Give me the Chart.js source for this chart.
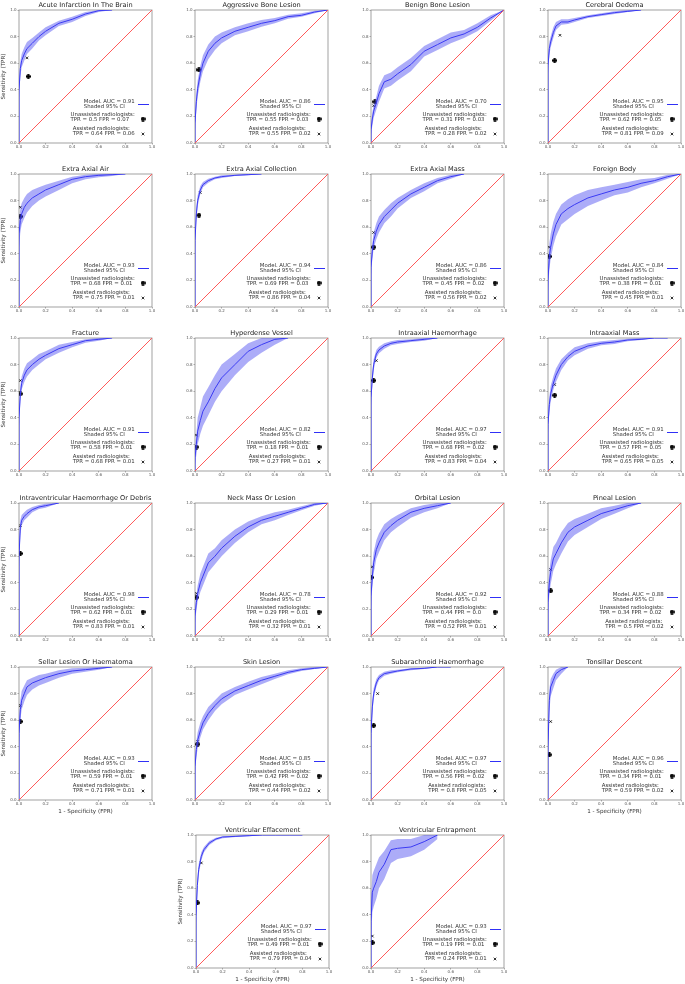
<!DOCTYPE html>
<html>
<head>
<meta charset="utf-8">
<script src="https://cdn.jsdelivr.net/npm/chart.js@4.4.1/dist/chart.umd.min.js"></script>
<style>
  body { margin: 0; background: #fff; }
  #wrap { position: relative; width: 685px; height: 984px; }
  #wrap canvas { position: absolute; }
</style>
</head>
<body>
<div id="wrap"></div>
<script>
// ---- data ----
const titles = [
  'Acute Infarction In The Brain', 'Aggressive Bone Lesion', 'Benign Bone Lesion', 'Cerebral Oedema',
  'Extra Axial Air', 'Extra Axial Collection', 'Extra Axial Mass', 'Foreign Body',
  'Fracture', 'Hyperdense Vessel', 'Intraaxial Haemorrhage', 'Intraaxial Mass',
  'Intraventricular Haemorrhage Or Debris', 'Neck Mass Or Lesion', 'Orbital Lesion', 'Pineal Lesion',
  'Sellar Lesion Or Haematoma', 'Skin Lesion', 'Subarachnoid Haemorrhage', 'Tonsillar Descent',
  'Ventricular Effacement', 'Ventricular Entrapment'
];
const aucs = [0.91, 0.86, 0.70, 0.95, 0.93, 0.94, 0.86, 0.84, 0.91, 0.82, 0.97, 0.91,
              0.98, 0.78, 0.92, 0.88, 0.93, 0.85, 0.97, 0.96, 0.97, 0.93];
const unassistedTpr = [0.5, 0.55, 0.31, 0.62, 0.68, 0.69, 0.45, 0.38, 0.58, 0.18, 0.68, 0.57,
                       0.62, 0.29, 0.44, 0.34, 0.59, 0.42, 0.56, 0.34, 0.49, 0.19];
const unassistedFpr = [0.07, 0.03, 0.03, 0.05, 0.01, 0.03, 0.02, 0.01, 0.01, 0.01, 0.02, 0.05,
                       0.01, 0.01, 0.0, 0.02, 0.01, 0.02, 0.02, 0.01, 0.01, 0.01];
const assistedTpr = [0.64, 0.55, 0.28, 0.81, 0.75, 0.86, 0.56, 0.45, 0.68, 0.27, 0.83, 0.65,
                     0.83, 0.32, 0.52, 0.5, 0.71, 0.44, 0.8, 0.59, 0.79, 0.24];
const assistedFpr = [0.06, 0.02, 0.02, 0.09, 0.01, 0.04, 0.02, 0.01, 0.01, 0.01, 0.04, 0.05,
                     0.01, 0.01, 0.01, 0.02, 0.01, 0.02, 0.05, 0.02, 0.04, 0.01];

const fprGrid = [0, 0, 0.01, 0.02, 0.04, 0.06, 0.1, 0.15, 0.2, 0.3, 0.4, 0.5, 0.6, 0.7, 0.8, 0.9, 1.0];
const tprCurves = [
  [0, 0.40, 0.56, 0.62, 0.67, 0.71, 0.75, 0.80, 0.84, 0.90, 0.93, 0.97, 0.995, 1.0],
  [0, 0.15, 0.31, 0.41, 0.52, 0.60, 0.69, 0.75, 0.79, 0.84, 0.87, 0.90, 0.92, 0.95, 0.96, 0.985, 1.0],
  [0, 0.10, 0.18, 0.24, 0.30, 0.37, 0.46, 0.48, 0.52, 0.59, 0.69, 0.74, 0.79, 0.82, 0.87, 0.94, 1.0],
  [0, 0.58, 0.71, 0.76, 0.83, 0.88, 0.91, 0.91, 0.925, 0.95, 0.965, 0.98, 0.99, 1.0],
  [0, 0.55, 0.65, 0.70, 0.75, 0.78, 0.82, 0.85, 0.88, 0.92, 0.96, 0.98, 0.99, 0.995, 1.0],
  [0, 0.50, 0.70, 0.80, 0.88, 0.92, 0.95, 0.97, 0.98, 0.99, 0.995, 1.0],
  [0, 0.30, 0.42, 0.50, 0.57, 0.62, 0.68, 0.73, 0.78, 0.85, 0.90, 0.95, 0.98, 1.0],
  [0, 0.20, 0.38, 0.45, 0.55, 0.62, 0.70, 0.74, 0.77, 0.82, 0.85, 0.88, 0.90, 0.93, 0.95, 0.98, 1.0],
  [0, 0.40, 0.58, 0.66, 0.72, 0.76, 0.80, 0.84, 0.87, 0.92, 0.95, 0.98, 0.99, 1.0],
  [0, 0.10, 0.20, 0.30, 0.38, 0.45, 0.52, 0.62, 0.70, 0.80, 0.90, 0.95, 0.99, 1.0],
  [0, 0.55, 0.70, 0.80, 0.88, 0.91, 0.94, 0.96, 0.97, 0.98, 0.99, 1.0],
  [0, 0.35, 0.50, 0.58, 0.66, 0.72, 0.80, 0.86, 0.90, 0.94, 0.96, 0.97, 0.985, 0.99, 1.0, 1.0],
  [0, 0.60, 0.82, 0.87, 0.90, 0.92, 0.95, 0.97, 0.98, 1.0],
  [0, 0.15, 0.25, 0.32, 0.40, 0.45, 0.55, 0.60, 0.66, 0.75, 0.82, 0.87, 0.90, 0.93, 0.96, 0.99, 1.0],
  [0, 0.30, 0.45, 0.55, 0.65, 0.70, 0.78, 0.83, 0.87, 0.93, 0.96, 0.98, 1.0],
  [0, 0.25, 0.40, 0.48, 0.58, 0.62, 0.70, 0.78, 0.82, 0.87, 0.92, 0.95, 0.98, 1.0],
  [0, 0.50, 0.68, 0.75, 0.80, 0.85, 0.88, 0.90, 0.92, 0.95, 0.97, 0.98, 0.99, 1.0],
  [0, 0.25, 0.38, 0.45, 0.52, 0.58, 0.65, 0.71, 0.76, 0.82, 0.86, 0.90, 0.93, 0.96, 0.98, 0.99, 1.0],
  [0, 0.50, 0.70, 0.80, 0.88, 0.92, 0.95, 0.96, 0.97, 0.985, 0.99, 1.0, 1.0],
  [0, 0.40, 0.75, 0.85, 0.90, 0.95, 0.98, 1.0],
  [0, 0.39, 0.62, 0.74, 0.84, 0.89, 0.94, 0.97, 0.985, 0.99, 0.995, 1.0, 1.0, 1.0, 1.0],
  [0, 0.35, 0.57, 0.60, 0.65, 0.72, 0.78, 0.89, 0.90, 0.91, 0.95, 1.0]
];
const ciLower = [
  [0, 0.34, 0.50, 0.57, 0.62, 0.67, 0.71, 0.77, 0.81, 0.88, 0.91, 0.955, 0.985, 1.0],
  [0, 0.10, 0.25, 0.35, 0.46, 0.54, 0.63, 0.70, 0.75, 0.81, 0.84, 0.875, 0.90, 0.935, 0.95, 0.975, 1.0],
  [0, 0.06, 0.13, 0.19, 0.25, 0.31, 0.41, 0.43, 0.47, 0.54, 0.65, 0.70, 0.75, 0.79, 0.84, 0.92, 1.0],
  [0, 0.52, 0.66, 0.72, 0.79, 0.85, 0.89, 0.895, 0.91, 0.94, 0.955, 0.97, 0.985, 1.0],
  [0, 0.45, 0.56, 0.62, 0.67, 0.71, 0.76, 0.80, 0.83, 0.88, 0.93, 0.96, 0.975, 0.985, 1.0],
  [0, 0.44, 0.65, 0.76, 0.85, 0.90, 0.935, 0.96, 0.97, 0.985, 0.99, 1.0],
  [0, 0.24, 0.36, 0.44, 0.51, 0.56, 0.63, 0.68, 0.74, 0.82, 0.87, 0.93, 0.965, 1.0],
  [0, 0.12, 0.28, 0.36, 0.46, 0.53, 0.62, 0.66, 0.70, 0.76, 0.80, 0.84, 0.86, 0.90, 0.93, 0.965, 1.0],
  [0, 0.34, 0.52, 0.61, 0.67, 0.71, 0.76, 0.80, 0.84, 0.89, 0.93, 0.965, 0.98, 1.0],
  [0, 0.05, 0.12, 0.20, 0.28, 0.34, 0.42, 0.52, 0.60, 0.72, 0.82, 0.89, 0.95, 1.0],
  [0, 0.49, 0.65, 0.76, 0.85, 0.885, 0.92, 0.945, 0.955, 0.97, 0.98, 1.0],
  [0, 0.29, 0.44, 0.52, 0.61, 0.67, 0.76, 0.83, 0.87, 0.92, 0.945, 0.955, 0.975, 0.985, 1.0, 1.0],
  [0, 0.52, 0.76, 0.83, 0.87, 0.89, 0.93, 0.955, 0.965, 1.0],
  [0, 0.10, 0.19, 0.26, 0.33, 0.38, 0.48, 0.54, 0.60, 0.70, 0.78, 0.84, 0.87, 0.91, 0.945, 0.98, 1.0],
  [0, 0.22, 0.37, 0.47, 0.58, 0.63, 0.72, 0.78, 0.82, 0.89, 0.93, 0.96, 1.0],
  [0, 0.17, 0.31, 0.39, 0.49, 0.54, 0.62, 0.71, 0.76, 0.82, 0.88, 0.92, 0.96, 1.0],
  [0, 0.42, 0.60, 0.68, 0.74, 0.79, 0.83, 0.86, 0.88, 0.92, 0.95, 0.965, 0.98, 1.0],
  [0, 0.20, 0.32, 0.39, 0.47, 0.53, 0.60, 0.67, 0.72, 0.79, 0.83, 0.87, 0.91, 0.945, 0.97, 0.985, 1.0],
  [0, 0.44, 0.65, 0.76, 0.85, 0.90, 0.935, 0.95, 0.96, 0.975, 0.985, 1.0, 1.0],
  [0, 0.30, 0.66, 0.78, 0.84, 0.90, 0.95, 1.0],
  [0, 0.34, 0.57, 0.70, 0.81, 0.87, 0.925, 0.96, 0.975, 0.985, 0.99, 1.0, 1.0, 1.0, 1.0],
  [0, 0.20, 0.42, 0.46, 0.52, 0.60, 0.67, 0.79, 0.82, 0.84, 0.89, 0.97]
];
const ciUpper = [
  [0, 0.46, 0.61, 0.67, 0.72, 0.76, 0.79, 0.83, 0.87, 0.92, 0.95, 0.985, 1.0, 1.0],
  [0, 0.20, 0.37, 0.47, 0.58, 0.66, 0.74, 0.80, 0.83, 0.87, 0.90, 0.925, 0.94, 0.965, 0.975, 0.995, 1.0],
  [0, 0.14, 0.23, 0.29, 0.35, 0.43, 0.51, 0.53, 0.57, 0.64, 0.73, 0.78, 0.83, 0.85, 0.90, 0.96, 1.0],
  [0, 0.64, 0.76, 0.80, 0.87, 0.91, 0.93, 0.93, 0.94, 0.96, 0.975, 0.99, 1.0, 1.0],
  [0, 0.65, 0.74, 0.78, 0.82, 0.85, 0.88, 0.90, 0.92, 0.95, 0.98, 0.995, 1.0, 1.0, 1.0],
  [0, 0.56, 0.75, 0.84, 0.91, 0.94, 0.965, 0.98, 0.99, 0.995, 1.0, 1.0],
  [0, 0.36, 0.48, 0.56, 0.63, 0.68, 0.73, 0.78, 0.82, 0.88, 0.93, 0.97, 0.995, 1.0],
  [0, 0.28, 0.48, 0.55, 0.64, 0.70, 0.77, 0.81, 0.84, 0.88, 0.90, 0.92, 0.94, 0.96, 0.97, 0.995, 1.0],
  [0, 0.46, 0.64, 0.71, 0.77, 0.81, 0.84, 0.88, 0.90, 0.95, 0.97, 0.99, 1.0, 1.0],
  [0, 0.16, 0.28, 0.40, 0.48, 0.56, 0.63, 0.72, 0.80, 0.88, 0.96, 1.0, 1.0, 1.0],
  [0, 0.61, 0.75, 0.84, 0.91, 0.935, 0.96, 0.975, 0.985, 0.99, 1.0, 1.0],
  [0, 0.41, 0.56, 0.64, 0.71, 0.77, 0.84, 0.89, 0.93, 0.96, 0.975, 0.985, 0.995, 1.0, 1.0, 1.0],
  [0, 0.68, 0.87, 0.91, 0.93, 0.95, 0.97, 0.985, 0.995, 1.0],
  [0, 0.20, 0.31, 0.38, 0.47, 0.52, 0.62, 0.66, 0.72, 0.80, 0.86, 0.90, 0.93, 0.95, 0.975, 1.0, 1.0],
  [0, 0.38, 0.53, 0.63, 0.72, 0.77, 0.84, 0.88, 0.91, 0.96, 0.985, 1.0, 1.0],
  [0, 0.33, 0.49, 0.57, 0.67, 0.70, 0.78, 0.85, 0.88, 0.92, 0.96, 0.98, 1.0, 1.0],
  [0, 0.58, 0.75, 0.82, 0.86, 0.90, 0.92, 0.94, 0.95, 0.975, 0.99, 0.995, 1.0, 1.0],
  [0, 0.30, 0.44, 0.51, 0.58, 0.63, 0.70, 0.75, 0.80, 0.85, 0.89, 0.925, 0.95, 0.975, 0.99, 1.0, 1.0],
  [0, 0.56, 0.75, 0.84, 0.91, 0.94, 0.965, 0.975, 0.98, 0.99, 0.995, 1.0, 1.0],
  [0, 0.50, 0.83, 0.91, 0.95, 0.98, 1.0, 1.0],
  [0, 0.44, 0.67, 0.78, 0.87, 0.91, 0.955, 0.98, 0.99, 0.995, 1.0, 1.0, 1.0, 1.0, 1.0],
  [0, 0.50, 0.70, 0.73, 0.78, 0.83, 0.88, 0.96, 0.97, 0.97, 1.0, 1.0]
];
const diagonal = [0, 1];
const axisTicks = [0, 0.2, 0.4, 0.6, 0.8, 1.0];

// ---- layout / style ----
const colLeft = [19, 195, 371, 548];
const rowTop = [10, 174, 338, 503, 667, 835];
const lastRowLeft = [196, 371];
const PLOT = 133, PAD_L = 19, PAD_T = 10, PAD_R = 6, PAD_B = 18;
const FONT = 'DejaVu Sans';
const CURVE = '#3030f6';
const BAND = 'rgba(70,70,240,0.45)';
const DIAG = '#ff5a5a';

Chart.defaults.font.family = FONT;

function plusMarker() {
  const c = document.createElement('canvas');
  c.width = 5; c.height = 5;
  const g = c.getContext('2d');
  g.fillStyle = '#000';
  g.fillRect(1.4, 0, 2.2, 5);
  g.fillRect(0, 1.4, 5, 2.2);
  return c;
}
const plusImg = plusMarker();

function fmt(v) {
  return Number.isInteger(v) ? v.toFixed(1) : String(v);
}

function pts(arr) {
  return fprGrid.map((x, k) => ({ x, y: arr[k] }))
    .filter(p => p.y !== undefined && p.y !== null);
}

const decor = {
  id: 'decor',
  beforeDatasetsDraw(chart) {
    const { ctx, chartArea: a } = chart;
    ctx.save();
    ctx.strokeStyle = '#8a8a8a';
    ctx.lineWidth = 0.8;
    ctx.strokeRect(a.left, a.top, a.right - a.left, a.bottom - a.top);
    ctx.restore();
  },
  afterDraw(chart, args, o) {
    const { ctx, chartArea: a } = chart;
    const w = a.right - a.left, h = a.bottom - a.top;
    const X = f => a.left + f * w;
    const Y = f => a.bottom - f * h;
    const i = o.index;
    ctx.save();
    // title
    ctx.fillStyle = '#222';
    ctx.font = `6.6px "${FONT}"`;
    ctx.textAlign = 'center';
    ctx.textBaseline = 'middle';
    ctx.fillText(titles[i], (a.left + a.right) / 2, a.top - 5);
    // axis titles
    ctx.font = `5.6px "${FONT}"`;
    ctx.fillStyle = '#333';
    if (o.yTitle) {
      ctx.save();
      ctx.translate(a.left - 15, (a.top + a.bottom) / 2);
      ctx.rotate(-Math.PI / 2);
      ctx.fillText('Sensitivity (TPR)', 0, 0);
      ctx.restore();
    }
    if (o.xTitle) ctx.fillText('1 - Specificity (FPR)', (a.left + a.right) / 2, a.bottom + 12);
    // legend
    ctx.font = `5.4px "${FONT}"`;
    ctx.textAlign = 'left';
    const blocks = [
      [`Model. AUC = ${aucs[i].toFixed(2)}`, 'Shaded 95% CI'],
      ['Unassisted radiologists:', `TPR = ${fmt(unassistedTpr[i])} FPR = ${fmt(unassistedFpr[i])}`],
      ['Assisted radiologists:', `TPR = ${fmt(assistedTpr[i])} FPR = ${fmt(assistedFpr[i])}`]
    ];
    const rowsY = [[0.315, 0.272], [0.211, 0.174], [0.11, 0.068]];
    blocks.forEach((b, k) => {
      const bw = Math.max(...b.map(t => ctx.measureText(t).width));
      const x0 = X(0.87) - bw;
      b.forEach((t, j) => ctx.fillText(t, x0, Y(rowsY[k][j])));
    });
    // handles: model line snapped to a pixel row
    ctx.fillStyle = CURVE;
    ctx.fillRect(Math.round(X(0.895)), Math.round(Y(0.29)), Math.round(X(0.975) - X(0.895)), 1);
    ctx.drawImage(plusImg, Math.round(X(0.935)) - 2.5, Math.round(Y(0.18)) - 2.5);
    ctx.strokeStyle = '#000';
    ctx.lineWidth = 0.8;
    const cx = Math.round(X(0.935)), cy = Math.round(Y(0.07)), r = 1.3;
    ctx.beginPath();
    ctx.moveTo(cx - r, cy - r); ctx.lineTo(cx + r, cy + r);
    ctx.moveTo(cx + r, cy - r); ctx.lineTo(cx - r, cy + r);
    ctx.stroke();
    ctx.restore();
  }
};

function axis(fit) {
  return {
    type: 'linear', min: 0, max: 1,
    afterBuildTicks(s) { s.ticks = axisTicks.map(v => ({ value: v })); },
    afterFit: fit,
    grid: { display: true, drawOnChartArea: false, drawTicks: true, tickLength: 1.5, color: '#8a8a8a', lineWidth: 0.7 },
    border: { display: false },
    ticks: { font: { size: 4 }, color: '#555', maxRotation: 0, autoSkip: false,
             callback: v => Number(v).toFixed(1) }
  };
}

const wrap = document.getElementById('wrap');
titles.forEach((t, i) => {
  const row = Math.floor(i / 4), col = i % 4;
  const left = row < 5 ? colLeft[col] : lastRowLeft[col];
  const top = rowTop[row];
  const cv = document.createElement('canvas');
  cv.width = PAD_L + PLOT + PAD_R;
  cv.height = PAD_T + PLOT + PAD_B;
  cv.style.left = (left - PAD_L) + 'px';
  cv.style.top = (top - PAD_T) + 'px';
  wrap.appendChild(cv);

  const xAx = axis(s => { s.height = PAD_B; });
  xAx.ticks.padding = 0;
  const yAx = axis(s => { s.width = PAD_L; });
  yAx.ticks.padding = 1;

  new Chart(cv, {
    type: 'line',
    data: {
      datasets: [
        { data: pts(ciUpper[i]), borderColor: 'transparent', borderWidth: 0.1, pointRadius: 0,
          backgroundColor: BAND, fill: '+1' },
        { data: pts(ciLower[i]), borderColor: 'transparent', borderWidth: 0.1, pointRadius: 0, fill: false },
        { data: diagonal.map(v => ({ x: v, y: v })), borderColor: DIAG, borderWidth: 1, pointRadius: 0, fill: false },
        { data: pts(tprCurves[i]), borderColor: CURVE, borderWidth: 1, pointRadius: 0, fill: false },
        { data: [{ x: unassistedFpr[i], y: unassistedTpr[i] }], showLine: false,
          pointStyle: plusImg, pointRadius: 2.5 },
        { data: [{ x: assistedFpr[i], y: assistedTpr[i] }], showLine: false,
          pointStyle: 'crossRot', pointRadius: 1.8, borderColor: '#000', borderWidth: 0.8 }
      ]
    },
    options: {
      responsive: false,
      animation: false,
      events: [],
      layout: { padding: { left: 0, top: PAD_T, right: PAD_R, bottom: 0 } },
      plugins: {
        legend: { display: false },
        tooltip: { enabled: false },
        decor: { index: i, yTitle: col === 0 && row < 5 || i === 20,
                 xTitle: row === 5 || (row === 4 && (col === 0 || col === 3)) }
      },
      scales: { x: xAx, y: yAx }
    },
    plugins: [decor]
  });
});
</script>
</body>
</html>
